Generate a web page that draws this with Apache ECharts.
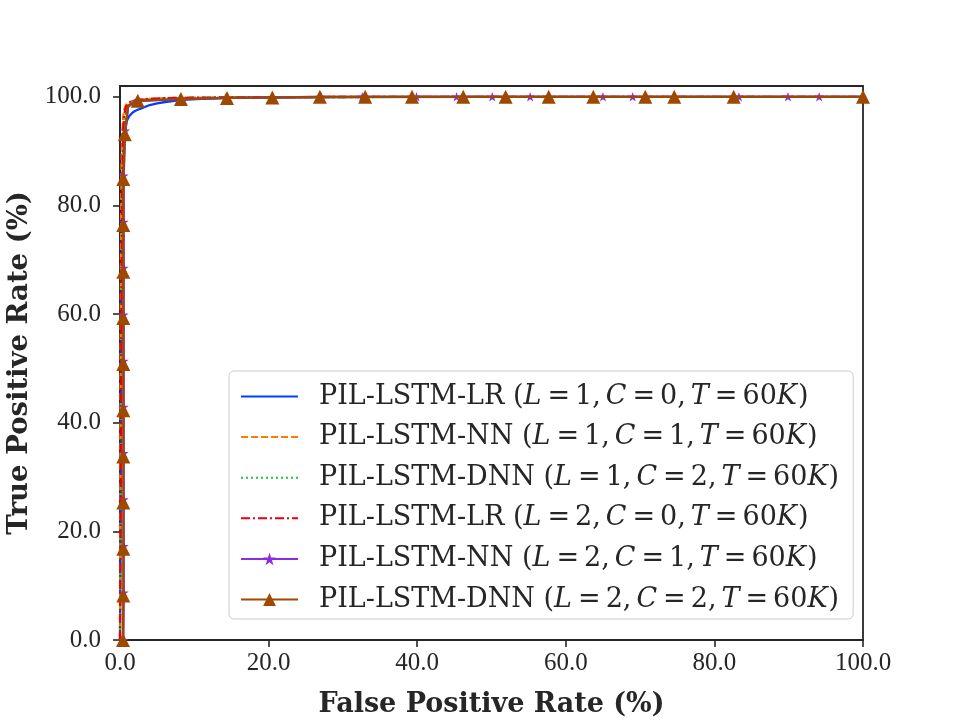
<!DOCTYPE html>
<html>
<head>
<meta charset="utf-8">
<script src="https://cdn.jsdelivr.net/npm/echarts@6/dist/echarts.min.js"></script>
<style>html,body{margin:0;padding:0;background:#fff;}#c{width:960px;height:720px;}</style>
</head>
<body>
<div id="c"></div>
<script>
// ---- data ----
const models = ['PIL-LSTM-LR', 'PIL-LSTM-NN', 'PIL-LSTM-DNN', 'PIL-LSTM-LR', 'PIL-LSTM-NN', 'PIL-LSTM-DNN'];
const layersL = [1, 1, 1, 2, 2, 2];
const classC = [0, 1, 2, 0, 1, 2];
const timeT = ['60K', '60K', '60K', '60K', '60K', '60K'];
const xTicks = [0, 20, 40, 60, 80, 100];
const yTicks = [0, 20, 40, 60, 80, 100];

const fprLR1 = [0, 0.1, 0.15, 0.2, 0.25, 0.35, 0.5, 0.67, 0.9, 1.2, 1.6, 2.0, 2.7, 4.0, 5.0, 6.3, 8.3, 11, 15, 20, 30, 50, 100];
const tprLR1 = [0, 20, 45, 65, 78, 86, 90.5, 93.5, 95.5, 96.4, 97.0, 97.4, 97.8, 98.5, 98.8, 99.1, 99.45, 99.65, 99.8, 99.88, 99.95, 100, 100];

const fprNN1 = [0, 0.05, 0.1, 0.15, 0.2, 0.3, 0.4, 0.55, 0.8, 1.2, 2.0, 3.5, 6, 10, 20, 40, 100];
const tprNN1 = [0, 25, 55, 75, 86, 93, 96, 97.6, 98.5, 99.0, 99.35, 99.6, 99.75, 99.85, 99.95, 100, 100];

const fprDNN1 = [0, 0.15, 0.25, 0.3, 0.4, 0.5, 0.65, 0.9, 1.3, 2.0, 3.5, 6, 10, 20, 40, 100];
const tprDNN1 = [0, 35, 55, 70, 84, 91, 95.5, 97.6, 98.6, 99.2, 99.5, 99.7, 99.82, 99.93, 100, 100];

const fprLR2 = [0, 0.1, 0.2, 0.3, 0.4, 0.55, 0.8, 1.2, 2.0, 3.5, 6, 10, 20, 40, 100];
const tprLR2 = [0, 30, 62, 84, 93, 96.6, 98.2, 98.9, 99.3, 99.6, 99.75, 99.85, 99.95, 100, 100];

const fprNN2 = [0.45, 0.5, 0.5, 0.5, 0.5, 0.5, 0.5, 0.5, 0.5, 0.5, 0.5, 0.7, 1.1, 2.2, 8.0, 14.2, 20.6, 27.1, 32.6, 39.9, 45.3, 50.1, 55.2, 65.0, 69.0, 83.3, 89.9, 94.1, 100];
const tprNN2 = [0, 8.7, 17.3, 25.9, 34.4, 42.9, 51.4, 59.9, 68.5, 77.0, 85.5, 93.8, 98.2, 99.2, 99.6, 99.8, 99.9, 100, 100, 100, 100, 100, 100, 100, 100, 100, 100, 100, 100];
const markNN2 = [1, 1, 1, 1, 1, 1, 1, 1, 1, 1, 1, 1, 0, 1, 1, 1, 1, 1, 1, 1, 1, 1, 1, 1, 1, 1, 1, 1, 0];

const fprDNN2 = [0.4, 0.45, 0.45, 0.45, 0.45, 0.45, 0.45, 0.45, 0.45, 0.45, 0.45, 0.65, 1.1, 2.4, 8.2, 14.4, 20.5, 26.9, 33.0, 39.3, 46.2, 51.9, 57.7, 63.7, 70.7, 74.6, 82.6, 100];
const tprDNN2 = [0, 8.2, 16.8, 25.3, 33.8, 42.3, 50.8, 59.3, 67.8, 76.4, 84.9, 93.1, 98.4, 99.3, 99.6, 99.8, 99.9, 100, 100, 100, 100, 100, 100, 100, 100, 100, 100, 100];
const markDNN2 = [1, 1, 1, 1, 1, 1, 1, 1, 1, 1, 1, 1, 0, 1, 1, 1, 1, 1, 1, 1, 1, 1, 1, 1, 1, 1, 1, 1];

// ---- build ----
const pair = (xs, ys) => xs.map((x, i) => [x, ys[i]]);
const pairMarked = (xs, ys, ms) => xs.map((x, i) => ms[i] ? [x, ys[i]] : { value: [x, ys[i]], symbol: 'none' });

const palette = ['#023eff', '#ff7c00', '#1ac938', '#e8000b', '#8b2be2', '#9f4800'];
const names = models.map((m, i) => `${m} (L = ${layersL[i]}, C = ${classC[i]}, T = ${timeT[i]})`);
const STAR = 'path://M50,0 L61.8,35.5 L99,35.5 L69,57.5 L80.5,93 L50,71 L19.5,93 L31,57.5 L1,35.5 L38.2,35.5 Z';

const dataSets = [
  pair(fprLR1, tprLR1), pair(fprNN1, tprNN1), pair(fprDNN1, tprDNN1), pair(fprLR2, tprLR2),
  pairMarked(fprNN2, tprNN2, markNN2), pairMarked(fprDNN2, tprDNN2, markDNN2)
];
const dashTypes = ['solid', [7, 3], [2, 3], [9, 3, 2, 3], 'solid', 'solid'];
const symbols = ['none', 'none', 'none', 'none', STAR, 'triangle'];
const symbolSizes = [0, 0, 0, 0, 10, 14];

const SERIF = '"Liberation Serif", "Times New Roman", serif';
const LSERIF = '"DejaVu Serif", serif';
const BOLD = '"DejaVu Serif", serif';
const ink = '#262626';

const series = names.map((n, i) => ({
  name: n,
  type: 'line',
  data: dataSets[i],
  showSymbol: symbols[i] !== 'none',
  symbol: symbols[i],
  symbolSize: symbolSizes[i],
  symbolKeepAspect: true,
  smooth: false,
  clip: true,
  animation: false,
  lineStyle: { color: palette[i], width: 2.3, type: dashTypes[i] },
  itemStyle: { color: palette[i], borderWidth: 0 },
  emphasis: { disabled: true },
  z: 2 + i
}));

const legendFmt = (name) => {
  const i = names.indexOf(name);
  return `{n|${models[i]} (}{i|L}{e|=}{n|${layersL[i]}}{c|,}{i|C}{e|=}{n|${classC[i]}}{c|,}{i|T}{e|=}{n|60}{i|K}{n|)}`;
};

const richBase = { fontFamily: LSERIF, fontSize: 27, color: ink, lineHeight: 30 };

const option = {
  backgroundColor: '#ffffff',
  animation: false,
  grid: { left: 120, right: 97, top: 86, bottom: 80, show: true, borderColor: ink, borderWidth: 1.8, backgroundColor: 'transparent', outerBoundsMode: 'none', containLabel: false },
  xAxis: {
    type: 'value', min: 0, max: 100, interval: 20,
    name: 'False Positive Rate (%)', nameLocation: 'middle', nameGap: 51,
    nameTextStyle: { fontFamily: BOLD, fontWeight: 'bold', fontSize: 27, color: ink, verticalAlign: 'top' },
    axisLine: { show: true, onZero: false, lineStyle: { color: ink, width: 1.8 } },
    axisTick: { show: true, inside: false, length: 7, lineStyle: { color: ink, width: 1.6 }, customValues: xTicks },
    axisLabel: { margin: 11, fontFamily: SERIF, fontSize: 25, color: ink, customValues: xTicks, formatter: v => Number(v).toFixed(1) },
    splitLine: { show: false }
  },
  yAxis: {
    type: 'value', min: 0, max: 102,
    name: 'True Positive Rate (%)', nameLocation: 'middle', nameGap: 86,
    nameTextStyle: { fontFamily: BOLD, fontWeight: 'bold', fontSize: 27.5, color: ink },
    axisLine: { show: true, onZero: false, lineStyle: { color: ink, width: 1.8 } },
    axisTick: { show: true, inside: false, length: 7, lineStyle: { color: ink, width: 1.6 }, customValues: yTicks },
    axisLabel: { margin: 19, fontFamily: SERIF, fontSize: 25, color: ink, customValues: yTicks, formatter: v => Number(v).toFixed(1) },
    splitLine: { show: false }
  },
  legend: {
    orient: 'vertical', left: 229, top: 371,
    data: names.map((n, i) => symbols[i] === 'none' ? { name: n, itemStyle: { opacity: 0 } } : { name: n }),
    backgroundColor: 'rgba(255,255,255,0.85)', borderColor: '#cccccc', borderWidth: 1, borderRadius: 5,
    padding: [12, 14, 6, 11],
    itemWidth: 57, itemHeight: 16, itemGap: 13.6,
    selectedMode: false,
    formatter: legendFmt,
    textStyle: {
      fontFamily: LSERIF, fontSize: 27, color: ink, padding: [0, 0, 0, 16],
      rich: {
        n: Object.assign({}, richBase),
        i: Object.assign({}, richBase, { fontStyle: 'italic', padding: [0, 1, 0, 0] }),
        e: Object.assign({}, richBase, { padding: [0, 5, 0, 5] }),
        c: Object.assign({}, richBase, { padding: [0, 5, 0, 0] })
      }
    }
  },
  series: series
};

const chart = echarts.init(document.getElementById('c'), null, { renderer: 'canvas' });
chart.setOption(option);
</script>
</body>
</html>
